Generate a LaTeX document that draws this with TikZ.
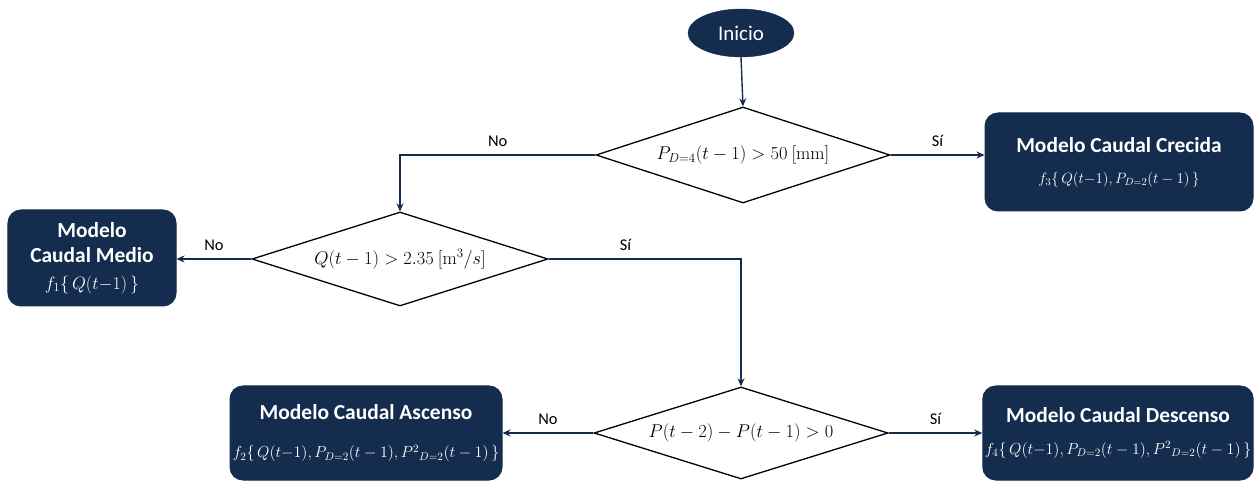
\RequirePackage{fix-cm}
\documentclass[tikz,border=0pt]{standalone}
\usepackage[no-math]{fontspec}
\setmainfont{Carlito}
\usetikzlibrary{shapes.geometric,arrows.meta}
\definecolor{navy}{RGB}{20,44,78}
\newcommand{\ttlfont}{\fontsize{21.5}{25}\selectfont\bfseries}
\newcommand{\frmfont}{\fontsize{15}{18}\selectfont}
\newcommand{\frmbig}{\fontsize{16}{19}\selectfont}
\begin{document}
\begin{tikzpicture}[x=1bp,y=-1bp,
  box/.style={draw=navy, fill=navy, rounded corners=13bp, text=white, align=center, inner sep=2bp, line width=1bp, font=\ttlfont},
  dec/.style={diamond, draw=black, line width=1.3bp, fill=white, shape aspect=3, inner sep=0pt, font=\fontsize{18.5}{21}\selectfont},
  arr/.style={draw=navy, line width=1.4bp, -{Stealth[length=8bp,width=7bp]}},
  lbl/.style={font=\fontsize{16.5}{19}\selectfont, text=black}]
\useasboundingbox (0,0) rectangle (1257,483);
% nodes
\node[ellipse, fill=navy, draw=navy, minimum width=106bp, minimum height=48bp, inner sep=0pt, text=white, font=\fontsize{21}{24}\selectfont] (inicio) at (741,33) {Inicio};
\node[dec, minimum width=294bp, minimum height=96bp] (d1) at (743,155) {$P_{D=4}(t-1)>50\ [\mathrm{mm}]$};
\node[dec, minimum width=296bp, minimum height=94bp] (d2) at (400,259) {$Q(t-1)>2.35\ [\mathrm{m}^3/s]$};
\node[dec, minimum width=294bp, minimum height=92bp] (d3) at (741,433) {$P(t-2)-P(t-1)>0$};
\node[box, minimum width=268bp, minimum height=98bp] (crec) at (1119,162)
  {Modelo Caudal Crecida\\[6bp]{\frmfont $f_3\{\,Q(t{-}1),P_{D=2}(t-1)\,\}$}};
\node[box, minimum width=168bp, minimum height=96bp] (medio) at (92,258)
  {Modelo\\Caudal Medio\\[2bp]{\fontsize{18}{21}\selectfont $f_1\{\,Q(t{-}1)\,\}$}};
\node[box, minimum width=272bp, minimum height=94bp] (asc) at (366,433)
  {Modelo Caudal Ascenso\\[14bp]{\frmbig $f_2\{\,Q(t{-}1),P_{D=2}(t-1),{P^{2}}_{D=2}(t-1)\,\}$}};
\node[box, minimum width=270bp, minimum height=94bp] (desc) at (1118,433)
  {Modelo Caudal Descenso\\[7bp]{\frmbig $f_4\{\,Q(t{-}1),P_{D=2}(t-1),{P^{2}}_{D=2}(t-1)\,\}$}};
% connectors
\draw[arr] (inicio.south) -- (d1.north);
\draw[arr] (d1.east) -- node[lbl, above=4bp] {Sí} (d1.east -| crec.west);
\draw[arr] (d1.west) -| node[lbl, above=4bp, pos=0.25] {No} (d2.north);
\draw[arr] (d2.west) -- node[lbl, above=4bp] {No} (d2.west -| medio.east);
\draw[arr] (d2.east) -| node[lbl, above=4bp, pos=0.2] {Sí} (d3.north);
\draw[arr] (d3.west) -- node[lbl, above=4bp] {No} (d3.west -| asc.east);
\draw[arr] (d3.east) -- node[lbl, above=4bp] {Sí} (d3.east -| desc.west);
\end{tikzpicture}
\end{document}
